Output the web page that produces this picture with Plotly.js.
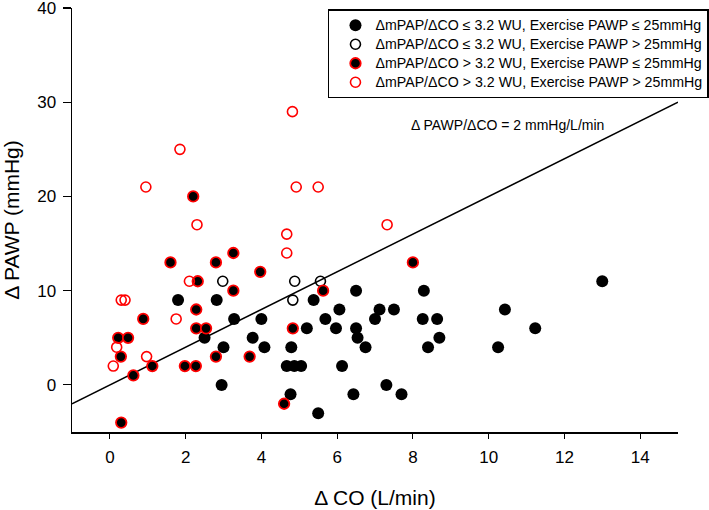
<!DOCTYPE html>
<html>
<head>
<meta charset="utf-8">
<script src="https://cdn.plot.ly/plotly-3.0.1.min.js"></script>
<style>html,body{margin:0;padding:0;background:#fff;}</style>
</head>
<body>
<div id="chart" style="width:709px;height:510px;"></div>
<script>
// ΔmPAP/ΔCO ≤ 3.2 WU, Exercise PAWP ≤ 25 mmHg (black filled)
var g1X = [4.77, 5.5, 6.43, 7.3, 7.7, 2.95, 1.8, 2.82, 3.28, 4.0, 2.5, 3.77, 4.08, 3.0, 4.67, 4.87, 5.05, 6.13, 4.79, 5.38, 6.5, 8.29, 6.06, 7.12, 7.5, 5.69, 7.0, 8.26, 8.64, 5.97, 6.5, 5.2, 6.54, 8.7, 6.75, 8.4, 10.25, 10.43, 11.23, 13.0];
var g1Y = [-1, -3, -1, 0, -1, 0, 9, 9, 7, 7, 5, 5, 4, 4, 2, 2, 2, 2, 4, 9, 10, 10, 8, 8, 8, 7, 7, 7, 7, 6, 6, 6, 5, 5, 4, 4, 4, 8, 6, 11];
// ΔmPAP/ΔCO ≤ 3.2 WU, Exercise PAWP > 25 mmHg (black open)
var g2X = [2.98, 4.88, 5.56, 4.83];
var g2Y = [11, 11, 11, 9];
// ΔmPAP/ΔCO > 3.2 WU, Exercise PAWP ≤ 25 mmHg (black filled, red edge)
var g3X = [0.3, 4.6, 2.2, 1.6, 2.8, 3.26, 3.97, 2.32, 3.26, 2.28, 0.88, 2.28, 2.54, 0.22, 0.48, 0.29, 2.8, 3.69, 1.12, 1.98, 2.27, 0.62, 8.0, 5.63, 4.83];
var g3Y = [-4, -2, 20, 13, 13, 14, 12, 11, 10, 8, 7, 6, 6, 5, 5, 3, 3, 3, 2, 2, 2, 1, 13, 10, 6];
// ΔmPAP/ΔCO > 3.2 WU, Exercise PAWP > 25 mmHg (red open)
var g4X = [1.85, 0.95, 2.3, 4.67, 4.67, 2.1, 0.3, 0.4, 1.75, 0.18, 0.97, 0.09, 4.82, 4.92, 5.5, 7.32];
var g4Y = [25, 21, 17, 16, 14, 11, 9, 9, 7, 4, 3, 2, 29, 21, 21, 17];
// reference line ΔPAWP/ΔCO = 2 mmHg/L/min
var lineX = [-1, 15];
var lineY = [-2, 30];

var legendNames = [
  "ΔmPAP/ΔCO ≤ 3.2 WU, Exercise PAWP ≤ 25mmHg",
  "ΔmPAP/ΔCO ≤ 3.2 WU, Exercise PAWP > 25mmHg",
  "ΔmPAP/ΔCO > 3.2 WU, Exercise PAWP ≤ 25mmHg",
  "ΔmPAP/ΔCO > 3.2 WU, Exercise PAWP > 25mmHg"
];
var xTicks = [0, 2, 4, 6, 8, 10, 12, 14];
var yTicks = [0, 10, 20, 30, 40];

var FONT = "Liberation Sans, Arial, sans-serif";
function legName(s) { return '<span style="font-size:14.2px">' + s + '</span>'; }

var traces = [
  {x: lineX, y: lineY, mode: "lines", line: {color: "#000", width: 1.5}, showlegend: false, hoverinfo: "skip"},
  {x: g1X, y: g1Y, mode: "markers", name: legName(legendNames[0]),
   marker: {size: 12, color: "#000", line: {width: 0}}},
  {x: g2X, y: g2Y, mode: "markers", name: legName(legendNames[1]),
   marker: {size: 10, color: "rgba(255,255,255,0)", line: {width: 1.6, color: "#000"}}},
  {x: g3X, y: g3Y, mode: "markers", name: legName(legendNames[2]),
   marker: {size: 10.5, color: "#000", line: {width: 1.8, color: "#ff0000"}}},
  {x: g4X, y: g4Y, mode: "markers", name: legName(legendNames[3]),
   marker: {size: 10, color: "rgba(255,255,255,0)", line: {width: 1.6, color: "#ff0000"}}}
];

var layout = {
  width: 709, height: 510,
  margin: {l: 72, r: 31, t: 8, b: 78, autoexpand: false},
  paper_bgcolor: "#fff", plot_bgcolor: "#fff",
  font: {family: FONT, color: "#000", size: 17},
  showlegend: true,
  xaxis: {
    range: [-1, 15], tickvals: xTicks, ticktext: xTicks.map(String),
    showgrid: false, zeroline: false, showline: true, linecolor: "#000", linewidth: 1.5,
    ticks: "outside", ticklen: 5, tickwidth: 1.2, tickcolor: "#000",
    tickfont: {family: FONT, size: 17, color: "#000"},
    ticklabelstandoff: 4,
    title: {text: "Δ CO (L/min)", font: {family: FONT, size: 21, color: "#000"}, standoff: 24}
  },
  yaxis: {
    range: [-5, 40], tickvals: yTicks, ticktext: yTicks.map(String),
    showgrid: false, zeroline: false, showline: true, linecolor: "#000", linewidth: 1.5,
    ticks: "outside", ticklen: 8, tickwidth: 1.2, tickcolor: "#000",
    tickfont: {family: FONT, size: 17, color: "#000"},
    ticklabelstandoff: 3, ticklabeloverflow: "allow",
    title: {text: "Δ PAWP (mmHg)", font: {family: FONT, size: 21, color: "#000"}, standoff: 12}
  },
  legend: {
    x: 0.4224, y: 0.997, xanchor: "left", yanchor: "top",
    bgcolor: "#fff", bordercolor: "#000", borderwidth: 1.5,
    font: {family: FONT, size: 12.3, color: "#000"},
    indentation: 6,
    tracegroupgap: 0
  },
  annotations: [{
    x: 10.5, y: 27.6, xref: "x", yref: "y", showarrow: false,
    text: "Δ PAWP/ΔCO = 2 mmHg/L/min",
    font: {family: FONT, size: 14, color: "#000"}
  }]
};

Plotly.newPlot("chart", traces, layout, {displayModeBar: false, staticPlot: true});
</script>
</body>
</html>
